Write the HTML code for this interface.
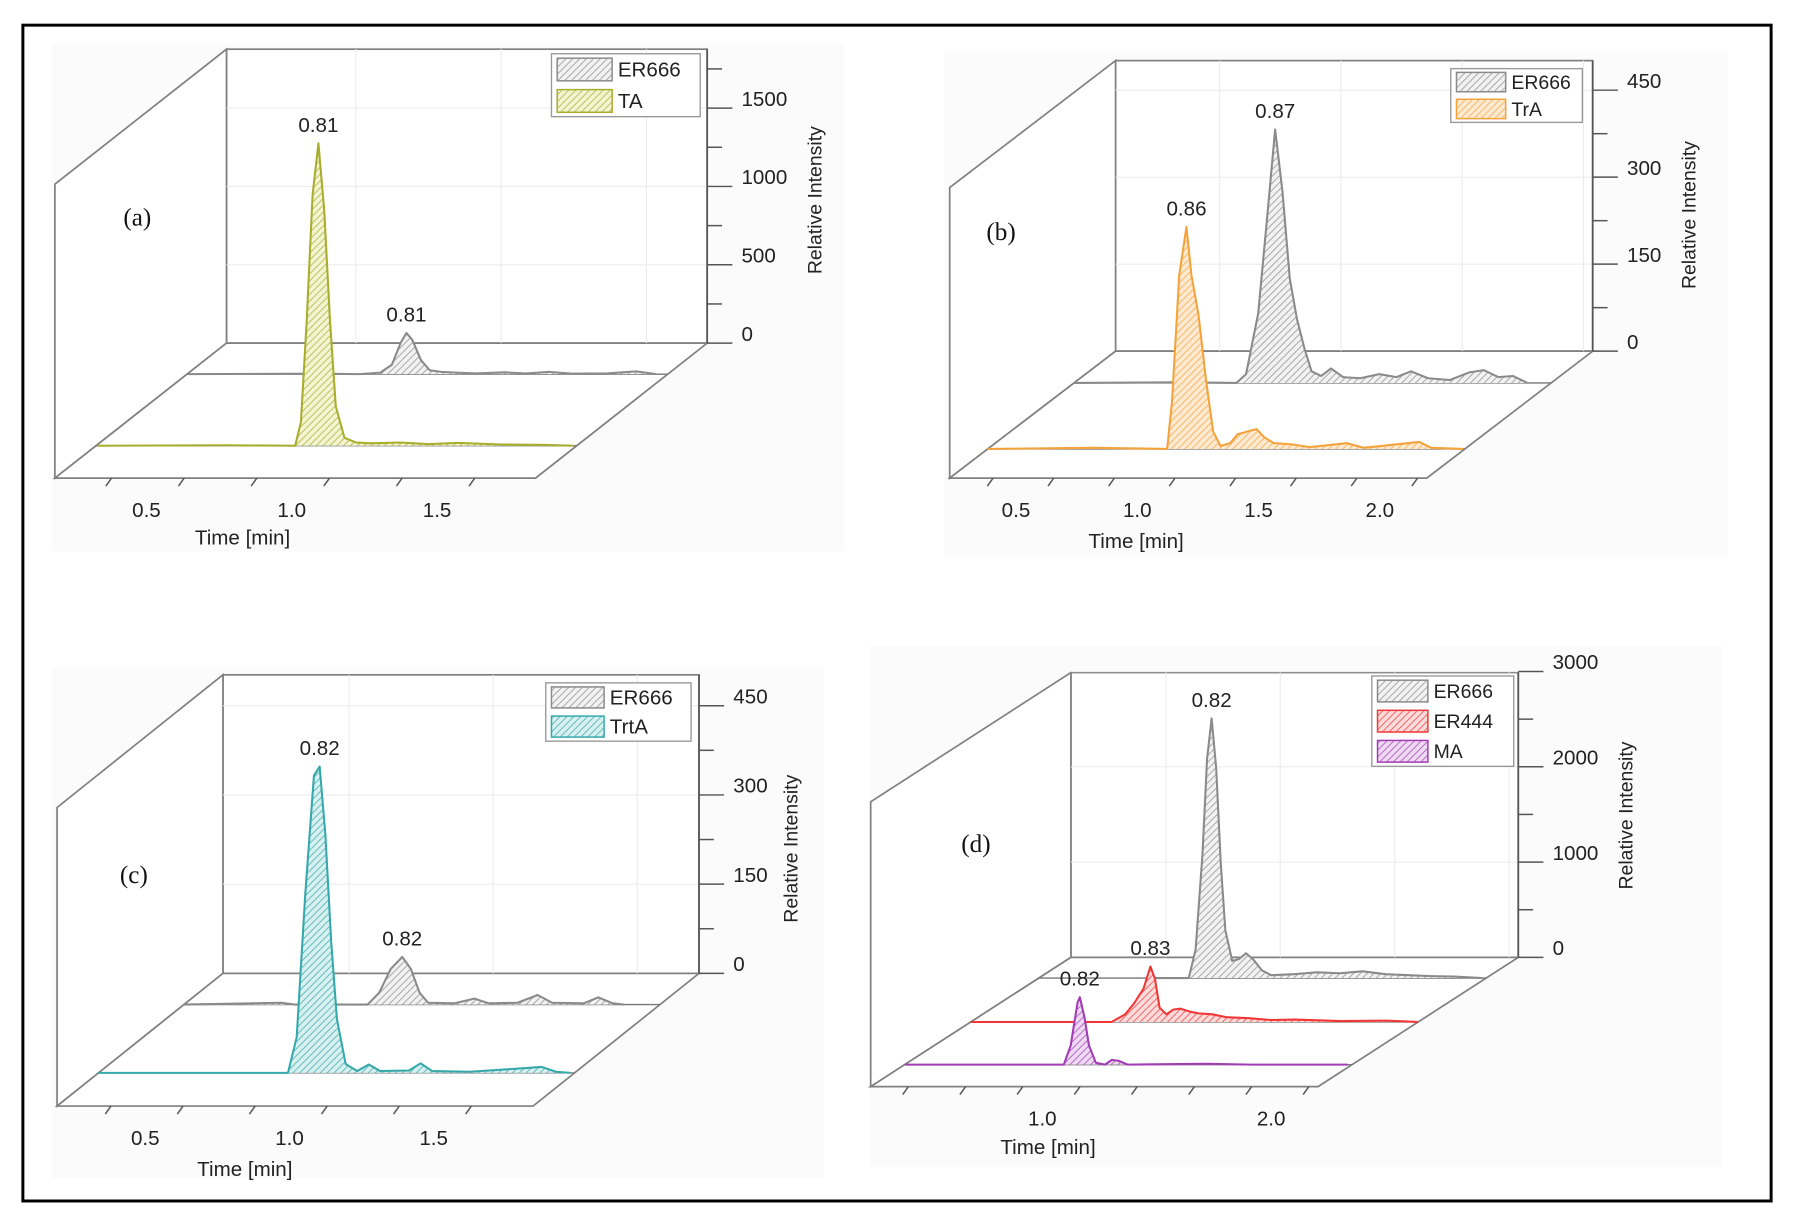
<!DOCTYPE html>
<html><head><meta charset="utf-8"><title>Chromatograms</title>
<style>
html,body{margin:0;padding:0;background:#fff;}
svg{display:block;font-family:"Liberation Sans",Arial,sans-serif;}
</style></head>
<body>
<svg id="fig" width="1794" height="1225" viewBox="0 0 1568 1071" preserveAspectRatio="none" xmlns="http://www.w3.org/2000/svg">
<defs id="defs"></defs>
<rect x="0" y="0" width="1568" height="1071" fill="#fff"/>
<rect x="20" y="22" width="1528" height="1028" fill="none" stroke="#000" stroke-width="2.6"/>
<g id="root"></g>
</svg>
<script>
// ---- data: [time (min), relative intensity] ----
const aER666 = [[0.06,0],[0.5,3],[0.65,0],[0.72,10],[0.76,60],[0.79,200],[0.81,263],[0.83,220],[0.86,90],[0.89,25],[0.93,15],[0.98,10],[1.05,5],[1.15,12],[1.22,4],[1.3,15],[1.38,3],[1.5,5],[1.6,18],[1.67,0]];
const aTA = [[0.06,0],[0.5,3],[0.74,0],[0.76,150],[0.78,800],[0.80,1600],[0.82,1930],[0.84,1500],[0.86,800],[0.88,250],[0.91,50],[0.95,20],[1.0,15],[1.1,20],[1.2,10],[1.3,18],[1.45,8],[1.6,5],[1.7,0]];
const bER666 = [[0.07,0],[0.5,1],[0.74,0],[0.78,15],[0.83,120],[0.87,300],[0.90,437],[0.93,330],[0.96,180],[0.99,110],[1.02,60],[1.05,20],[1.09,12],[1.13,25],[1.18,10],[1.25,8],[1.33,15],[1.4,10],[1.46,20],[1.53,8],[1.62,5],[1.7,18],[1.76,22],[1.82,10],[1.88,12],[1.94,0]];
const bTrA = [[0.07,0],[0.5,2],[0.81,0],[0.83,80],[0.86,300],[0.89,383],[0.91,300],[0.94,230],[0.97,120],[1.0,30],[1.03,5],[1.07,10],[1.1,25],[1.14,30],[1.18,34],[1.21,20],[1.25,10],[1.32,8],[1.4,3],[1.55,10],[1.62,2],[1.85,12],[1.9,2],[2.03,0]];
const cER666 = [[0.06,0],[0.4,3],[0.45,0],[0.7,0],[0.74,20],[0.78,60],[0.82,80],[0.85,60],[0.88,20],[0.91,3],[1.0,2],[1.07,10],[1.12,2],[1.22,3],[1.29,16],[1.34,3],[1.45,2],[1.5,12],[1.55,2],[1.59,0]];
const cTrtA = [[0.06,0],[0.72,0],[0.75,60],[0.78,300],[0.81,500],[0.83,515],[0.85,400],[0.87,220],[0.89,90],[0.92,15],[0.96,3],[1.0,14],[1.04,3],[1.14,4],[1.18,16],[1.22,3],[1.35,2],[1.45,5],[1.6,10],[1.65,2],[1.7,0]];
const dER666 = [[0.56,0],[0.74,0],[0.77,300],[0.80,1300],[0.82,2300],[0.84,2725],[0.86,2200],[0.88,1200],[0.90,500],[0.93,180],[0.96,200],[0.99,260],[1.02,200],[1.06,80],[1.1,30],[1.2,40],[1.3,60],[1.4,50],[1.5,70],[1.6,40],[1.7,30],[1.8,20],[1.9,15],[2.02,0]];
const dER444 = [[0.085,0],[0.70,0],[0.76,80],[0.80,200],[0.84,350],[0.87,582],[0.89,450],[0.91,150],[0.94,80],[0.97,130],[1.0,140],[1.04,110],[1.08,90],[1.14,80],[1.2,50],[1.3,40],[1.4,20],[1.5,25],[1.7,10],[1.9,15],[2.04,0]];
const dMA = [[0.085,0],[0.78,0],[0.81,200],[0.84,650],[0.85,708],[0.87,500],[0.89,200],[0.92,20],[0.96,0],[0.99,50],[1.02,40],[1.06,0],[1.4,10],[1.6,0],[2.02,0]];
// tick labels
const aYTicks = [0,500,1000,1500];
const bYTicks = [0,150,300,450];
const cYTicks = [0,150,300,450];
const dYTicks = [0,1000,2000,3000];
const aXTicks = [0.5,1.0,1.5];
const bXTicks = [0.5,1.0,1.5,2.0];
const cXTicks = [0.5,1.0,1.5];
const dXTicks = [1.0,2.0];
const peakLabels = ["0.81","0.81","0.87","0.86","0.82","0.82","0.82","0.83","0.82"];

// ---- layout (not data) ----
const panels = [
 {id:'a', lab:'(a)', labX:120, labY:190, fx0:34, k:254, t0:0.055, t1:1.709, ddx:-150, ddy:118, baseY:300, topY:43, scale:0.137, yTicks:aYTicks, minor:250, yMax:1750, xTicks:aXTicks, bg:[45,38,693,444], ylabX:718, ylabY:175, timeX:212, timeY:476,
  legend:{x:482,y:47,w:130,h:55,sw:48,fs:18},
  series:[{name:'ER666', data:aER666, f:0.23, c:'#8a8a8a', fill:'#f2f2f2', p:0},{name:'TA', data:aTA, f:0.76, c:'#a8ad2c', fill:'#f3f4d2', p:1}]},
 {id:'b', lab:'(b)', labX:875, labY:203, fx0:815, k:212, t0:0.071, t1:2.038, ddx:-145, ddy:111, baseY:307, topY:53, scale:0.507, yTicks:bYTicks, minor:75, yMax:450, xTicks:bXTicks, bg:[825,45,685,440], ylabX:1482, ylabY:188, timeX:993, timeY:479,
  legend:{x:1268,y:60,w:115,h:47,sw:43,fs:17},
  series:[{name:'ER666', data:bER666, f:0.25, c:'#8a8a8a', fill:'#f2f2f2', p:2},{name:'TrA', data:bTrA, f:0.77, c:'#f5a23a', fill:'#fdead2', p:3}]},
 {id:'c', lab:'(c)', labX:117, labY:765, fx0:34, k:252, t0:0.063, t1:1.714, ddx:-145, ddy:116, baseY:851, topY:590, scale:0.52, yTicks:cYTicks, minor:75, yMax:450, xTicks:cXTicks, bg:[45,585,675,445], ylabX:697, ylabY:742, timeX:214, timeY:1028,
  legend:{x:477,y:597,w:127,h:51,sw:46,fs:18},
  series:[{name:'ER666', data:cER666, f:0.235, c:'#8a8a8a', fill:'#f2f2f2', p:4},{name:'TrtA', data:cTrtA, f:0.75, c:'#35a8aa', fill:'#d8f0f0', p:5}]},
 {id:'d', lab:'(d)', labX:853, labY:738, fx0:744, k:200, t0:0.085, t1:2.04, ddx:-175, ddy:113, baseY:837, topY:588, scale:0.0833, yTicks:dYTicks, minor:500, yMax:3000, xTicks:dXTicks, bg:[760,565,745,455], ylabX:1427, ylabY:713, timeX:916, timeY:1009,
  legend:{x:1199,y:591,w:124,h:79,sw:44,fs:17},
  series:[{name:'ER666', data:dER666, f:0.16, c:'#8a8a8a', fill:'#f2f2f2', p:6},{name:'ER444', data:dER444, f:0.5, c:'#f23535', fill:'#fcdcdc', p:7},{name:'MA', data:dMA, f:0.83, c:'#a23bb5', fill:'#efdaf3', p:8}]}
];

const NS='http://www.w3.org/2000/svg';
const root=document.getElementById('root');
const defs=document.getElementById('defs');
function mk(tag,attrs,parent){const e=document.createElementNS(NS,tag);for(const k in attrs)e.setAttribute(k,attrs[k]);(parent||root).appendChild(e);return e;}
function txt(str,attrs,parent){const e=mk('text',attrs,parent);e.textContent=str;return e;}

let patId=0;
function hatch(color,fill){
  const id='h'+(patId++);
  const p=mk('pattern',{id:id,patternUnits:'userSpaceOnUse',width:6,height:6},defs);
  mk('rect',{x:0,y:0,width:6,height:6,fill:fill},p);
  mk('path',{d:'M-1,1 L1,-1 M0,6 L6,0 M5,7 L7,5',stroke:color,'stroke-width':0.8,opacity:0.8},p);
  return 'url(#'+id+')';
}

panels.forEach(P=>{
  const g=mk('g',{});
  
  
  const bg=mk('rect',{x:P.bg[0],y:P.bg[1],width:P.bg[2],height:P.bg[3],fill:'#fbfbfb'},g);
  
  
  const fX=t=>P.fx0+P.k*t;
  const px=(t,f)=>fX(t)-(1-f)*P.ddx;
  const py=(f,v)=>P.baseY+f*P.ddy-v*P.scale;
  const bx0=px(P.t0,0), bx1=px(P.t1,0), fx0=fX(P.t0), fx1=fX(P.t1);
  const fy=P.baseY+P.ddy, tY=P.topY;
  const stroke='#808080';
  const back=mk('rect',{x:bx0,y:tY,width:bx1-bx0,height:P.baseY-tY,fill:'#fff',stroke:stroke,'stroke-width':1.5},g);
  
  
  const side=mk('polygon',{points:`${bx0},${tY} ${bx0},${P.baseY} ${fx0},${fy} ${fx0},${tY+P.ddy}`,fill:'#fff',stroke:stroke,'stroke-width':1.5},g);
  
  
  const floor=mk('polygon',{points:`${bx0},${P.baseY} ${bx1},${P.baseY} ${fx1},${fy} ${fx0},${fy}`,fill:'#fff',stroke:stroke,'stroke-width':1.5},g);
  
  
  for(let t=0.5;t<P.t1;t+=0.5){const x=px(t,0);const l=mk('line',{x1:x,y1:tY,x2:x,y2:P.baseY,stroke:'#ececec','stroke-width':1},g);
    }
  P.yTicks.forEach(v=>{if(v>0){const y=py(0,v);const l=mk('line',{x1:bx0,y1:y,x2:bx1,y2:y,stroke:'#ececec','stroke-width':1},g);
    }});
  for(let v=0;v<=P.yMax+1e-6;v+=P.minor){
    const y=py(0,v);const major=P.yTicks.indexOf(Math.round(v))>=0;
    const tk=mk('line',{x1:bx1,y1:y,x2:bx1+(major?22:13),y2:y,stroke:'#555','stroke-width':1.3},g);
    
  }
  mk('line',{x1:bx1,y1:tY,x2:bx1,y2:P.baseY,stroke:'#555','stroke-width':1.5},g);
  P.yTicks.forEach(v=>{const t=txt(String(v),{x:bx1+30,y:py(0,v)-2,'font-size':18,fill:'#222'},g);
    });
  const yl=txt('Relative Intensity',{x:P.ylabX,y:P.ylabY,'font-size':17,fill:'#222','text-anchor':'middle',transform:`rotate(-90 ${P.ylabX} ${P.ylabY})`},g);
  
  for(let t=0.25;t<=P.t1+1e-6;t+=0.25){const x=fX(t);
    const tk=mk('line',{x1:x,y1:fy,x2:x-5,y2:fy+7,stroke:'#555','stroke-width':1.3},g);
    }
  P.xTicks.forEach(t=>{const e=txt(t.toFixed(1),{x:fX(t)-33,y:fy+34,'font-size':18,fill:'#222','text-anchor':'middle'},g);
    });
  const xt=txt('Time [min]',{x:P.timeX,y:P.timeY,'font-size':18,fill:'#222','text-anchor':'middle'},g);
  
  const pl=txt(P.lab,{x:P.labX,y:P.labY+7,'font-size':22,fill:'#111','text-anchor':'middle','font-family':'"Liberation Serif",serif'},g);
  
  P.series.forEach(S=>{
    const sg=mk('g',{},g);
    
    
    const rl=mk('line',{x1:px(P.t0,S.f),y1:py(S.f,0),x2:px(P.t1,S.f),y2:py(S.f,0),stroke:'#777','stroke-width':1.2},sg);
    
    const pts=S.data.map(d=>[px(d[0],S.f),py(S.f,d[1])]);
    const line='M'+pts.map(p=>p[0].toFixed(1)+','+p[1].toFixed(1)).join(' L');
    const first=S.data[0][0], last=S.data[S.data.length-1][0];
    const area=line+` L${px(last,S.f).toFixed(1)},${py(S.f,0).toFixed(1)} L${px(first,S.f).toFixed(1)},${py(S.f,0).toFixed(1)} Z`;
    const fa=mk('path',{d:area,fill:hatch(S.c,S.fill),stroke:'none'},sg);
    
    const ln=mk('path',{d:line,fill:'none',stroke:S.c,'stroke-width':1.8,'stroke-linejoin':'round'},sg);
    
    let mi=0;S.data.forEach((d,i)=>{if(d[1]>S.data[mi][1])mi=i;});
    const pk=S.data[mi];
    const lt=txt(peakLabels[S.p],{x:px(pk[0],S.f),y:py(S.f,pk[1])-10,'font-size':18,fill:'#222','text-anchor':'middle'},sg);
    
  });
  const L=P.legend;
  const lg=mk('g',{},g);
  
  
  mk('rect',{x:L.x,y:L.y,width:L.w,height:L.h,fill:'#fff',stroke:'#999','stroke-width':1.2},lg);
  const rh=L.h/P.series.length;
  P.series.forEach((S,i)=>{
    const cy=L.y+rh*(i+0.5);
    const le=mk('g',{},lg);
    
    
    mk('rect',{x:L.x+5,y:cy-rh*0.36,width:L.sw,height:rh*0.72,fill:hatch(S.c,S.fill),stroke:S.c,'stroke-width':1.3},le);
    txt(S.name,{x:L.x+L.sw+10,y:cy+6,'font-size':L.fs,fill:'#222'},le);
  });
});
</script>
</body></html>
